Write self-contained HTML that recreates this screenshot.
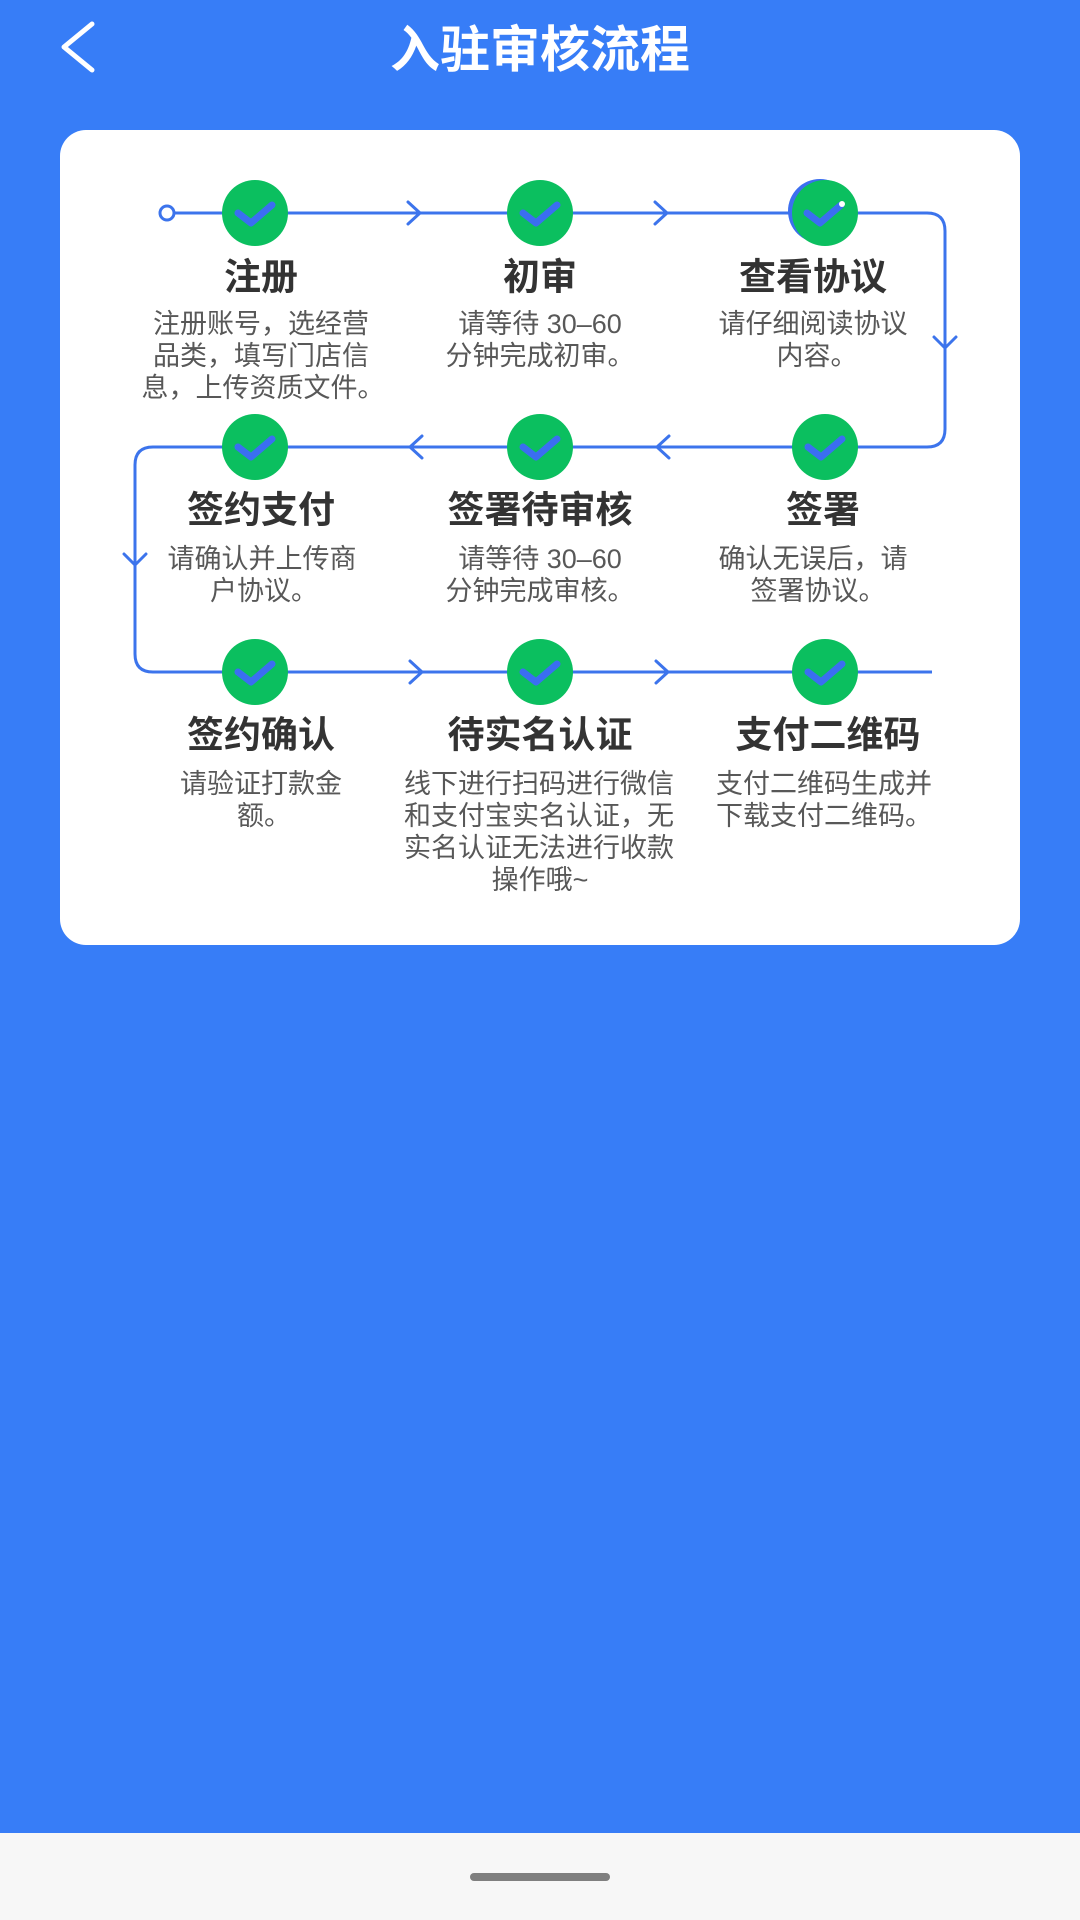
<!DOCTYPE html>
<html>
<head>
<meta charset="utf-8">
<style>
  html,body{margin:0;padding:0;}
  body{width:1080px;height:1920px;overflow:hidden;background:#377DF7;position:relative;
    font-family:"Liberation Sans","Noto Sans CJK SC",sans-serif;}
  svg{position:absolute;left:0;top:0;}
  .t{font-family:"Liberation Sans","Noto Sans CJK SC",sans-serif;font-size:37px;font-weight:700;fill:#333;text-anchor:middle;dominant-baseline:central;}
  .d{font-family:"Liberation Sans","Noto Sans CJK SC",sans-serif;font-size:27px;fill:#585858;text-anchor:middle;dominant-baseline:central;}
  .h{font-family:"Liberation Sans","Noto Sans CJK SC",sans-serif;font-size:50px;font-weight:700;fill:#fff;text-anchor:middle;dominant-baseline:central;}
</style>
</head>
<body>
<svg width="1080" height="1920" viewBox="0 0 1080 1920" xmlns="http://www.w3.org/2000/svg">
  <!-- header -->
  <polyline points="92,24 64,47 92,70" fill="none" stroke="#fff" stroke-width="5" stroke-linecap="round" stroke-linejoin="round"/>
  <text class="h" x="540" y="50">入驻审核流程</text>

  <!-- card -->
  <rect x="60" y="130" width="960" height="815" rx="26" ry="26" fill="#fff"/>

  <!-- connector -->
  <path d="M174,213 H927 Q945,213 945,231 V429 Q945,447 927,447 H153 Q135,447 135,465 V654 Q135,672 153,672 H932"
        fill="none" stroke="#3c74ec" stroke-width="3"/>
  <circle cx="167" cy="213" r="7" fill="#fff" stroke="#3c74ec" stroke-width="3"/>

  <g fill="none" stroke="#3c74ec" stroke-width="3" stroke-linecap="round" stroke-linejoin="round">
    <polyline points="408,202 420,213 408,224"/>
    <polyline points="655,202 667,213 655,224"/>
    <polyline points="934,337 945,348 956,337"/>
    <polyline points="422,436 410,447 422,458"/>
    <polyline points="669,436 657,447 669,458"/>
    <polyline points="124,554 135,565 146,554"/>
    <polyline points="410,661 422,672 410,683"/>
    <polyline points="656,661 668,672 656,683"/>
  </g>

  <!-- circles -->
  <g fill="#0bbf5f">
    <circle cx="255" cy="213" r="33"/>
    <circle cx="540" cy="213" r="33"/>
    <circle cx="820" cy="211" r="32" fill="#3c6ff0"/>
    <circle cx="825" cy="213" r="33"/>
    <circle cx="255" cy="447" r="33"/>
    <circle cx="540" cy="447" r="33"/>
    <circle cx="825" cy="447" r="33"/>
    <circle cx="255" cy="672" r="33"/>
    <circle cx="540" cy="672" r="33"/>
    <circle cx="825" cy="672" r="33"/>
  </g>
  <g fill="none" stroke="#3b6ef1" stroke-width="7" stroke-linecap="round" stroke-linejoin="round">
    <polyline points="238,213 251,223 272,205"/>
    <polyline points="523,213 536,223 557,205"/>
    <polyline points="807,213 820,223 841,205"/>
    <polyline points="238,447 251,457 272,439"/>
    <polyline points="523,447 536,457 557,439"/>
    <polyline points="808,447 821,457 842,439"/>
    <polyline points="238,672 251,682 272,664"/>
    <polyline points="523,672 536,682 557,664"/>
    <polyline points="808,672 821,682 842,664"/>
  </g>
  <circle cx="842" cy="204" r="3" fill="#fff"/>

  <!-- row 1 text -->
  <text class="t" x="261" y="277">注册</text>
  <text class="d" x="261" y="324">注册账号，选经营</text>
  <text class="d" x="261" y="356">品类，填写门店信</text>
  <text class="d" x="263" y="388">息，上传资质文件。</text>

  <text class="t" x="540" y="277">初审</text>
  <text class="d" x="540" y="324">请等待 30–60</text>
  <text class="d" x="540" y="356">分钟完成初审。</text>

  <text class="t" x="813" y="277">查看协议</text>
  <text class="d" x="813" y="324">请仔细阅读协议</text>
  <text class="d" x="817" y="356">内容。</text>

  <!-- row 2 text -->
  <text class="t" x="261" y="510">签约支付</text>
  <text class="d" x="262" y="559">请确认并上传商</text>
  <text class="d" x="264" y="591">户协议。</text>

  <text class="t" x="540" y="510">签署待审核</text>
  <text class="d" x="540" y="559">请等待 30–60</text>
  <text class="d" x="540" y="591">分钟完成审核。</text>

  <text class="t" x="823" y="510">签署</text>
  <text class="d" x="813" y="559">确认无误后，请</text>
  <text class="d" x="818" y="591">签署协议。</text>

  <!-- row 3 text -->
  <text class="t" x="261" y="735">签约确认</text>
  <text class="d" x="261" y="784">请验证打款金</text>
  <text class="d" x="264" y="816">额。</text>

  <text class="t" x="540" y="735">待实名认证</text>
  <text class="d" x="539" y="784">线下进行扫码进行微信</text>
  <text class="d" x="539" y="816">和支付宝实名认证，无</text>
  <text class="d" x="539" y="848">实名认证无法进行收款</text>
  <text class="d" x="540" y="880">操作哦~</text>

  <text class="t" x="828" y="735">支付二维码</text>
  <text class="d" x="824" y="784">支付二维码生成并</text>
  <text class="d" x="824" y="816">下载支付二维码。</text>

  <!-- bottom nav -->
  <rect x="0" y="1833" width="1080" height="87" fill="#f7f7f7"/>
  <rect x="470" y="1873" width="140" height="8" rx="4" ry="4" fill="#7f7f7f"/>
</svg>
</body>
</html>
